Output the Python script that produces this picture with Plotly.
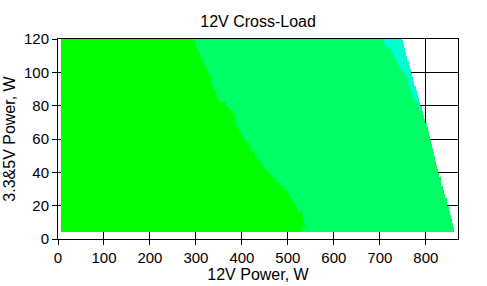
import plotly.graph_objects as go

# Rows of the cross-load map (3.3&5V power, W) – row centres
row_y = [5.75, 8.25, 10.75, 13.25, 15.75, 18.25, 20.75, 23.25, 25.75, 28.25,
         30.75, 33.25, 35.75, 38.25, 40.75, 43.25, 45.75, 48.25, 50.75, 53.25,
         55.75, 58.25, 60.75, 63.25, 65.75, 68.25, 70.75, 73.25, 75.75, 78.25,
         80.75, 83.25, 85.75, 88.25, 90.75, 93.25, 95.75, 98.25, 100.75, 103.25,
         105.75, 108.25, 110.75, 113.25, 115.75, 118.25, 120.75]

# 12V power where each row starts
row_start = [6] * len(row_y)

# end of the first (green) zone
green_end = [529, 540, 536, 532, 530, 522, 515, 510, 504, 497,
             490, 482, 473, 464, 455, 447, 441, 436, 428, 421,
             416, 412, 405, 400, 394, 388, 384, 384, 380, 372,
             365, 350, 345, 343, 340, 336, 333, 330, 326, 322,
             318, 314, 309, 305, 300, 297, 294]

# start of the third (cyan) zone
cyan_start = [862, 860, 857, 855, 852, 850, 847, 845, 842, 840,
              838, 834, 832, 829, 826, 824, 822, 820, 818, 816,
              813, 811, 809, 807, 805, 802, 799, 797, 794, 786,
              782, 776, 770, 767, 765, 762, 758, 755, 748, 742,
              738, 733, 730, 722, 714, 710, 709]

# maximum 12V load of each row
row_end = [862, 860, 857, 855, 852, 850, 847, 845, 842, 840,
           838, 834, 832, 829, 826, 824, 822, 820, 818, 816,
           813, 811, 809, 807, 805, 802, 799, 797, 794, 791,
           788, 786, 783, 780, 778, 775, 772, 770, 768, 766,
           763, 759, 757, 755, 753, 751, 749]

zone_colors = ["#00ff00", "#00ff66", "#00ffcc"]
row_h = 2.6

zones = [
    (row_start, green_end),
    (green_end, cyan_start),
    (cyan_start, row_end),
]

fig = go.Figure()
for (a, b), c in zip(zones, zone_colors):
    fig.add_trace(go.Bar(
        orientation="h",
        y=row_y,
        base=a,
        x=[e - s for s, e in zip(a, b)],
        width=row_h,
        marker=dict(color=c, line=dict(width=0)),
        hoverinfo="skip",
        showlegend=False,
    ))

fam = "Liberation Sans, Arial, sans-serif"
fig.update_layout(
    width=487, height=286,
    margin=dict(l=58, r=29, t=39, b=47, autoexpand=False),
    paper_bgcolor="white", plot_bgcolor="white",
    barmode="overlay",
    bargap=0,
    font=dict(family=fam, size=15, color="black"),
    title=dict(text="12V Cross-Load", x=0.53, xanchor="center", y=0.925, yanchor="middle",
               font=dict(family=fam, size=16, color="black")),
    xaxis=dict(range=[0, 870], tickmode="array", tickvals=[0, 100, 200, 300, 400, 500, 600, 700, 800],
               showgrid=True, gridcolor="black", gridwidth=1, zeroline=False,
               showline=True, linecolor="black", linewidth=1, mirror=True, automargin=False,
               ticks="outside", ticklen=5, tickcolor="black",
               title=dict(text="12V Power, W", standoff=1, font=dict(family=fam, size=16))),
    yaxis=dict(range=[0, 120], tickmode="array", tickvals=[0, 20, 40, 60, 80, 100, 120],
               showgrid=True, gridcolor="black", gridwidth=1, zeroline=False,
               showline=True, linecolor="black", linewidth=1, mirror=True, automargin=False,
               ticks="outside", ticklen=5, tickcolor="black",
               title=dict(text="3.3&amp;5V Power, W", standoff=4, font=dict(family=fam, size=16))),
)
fig.write_html("out.html")
